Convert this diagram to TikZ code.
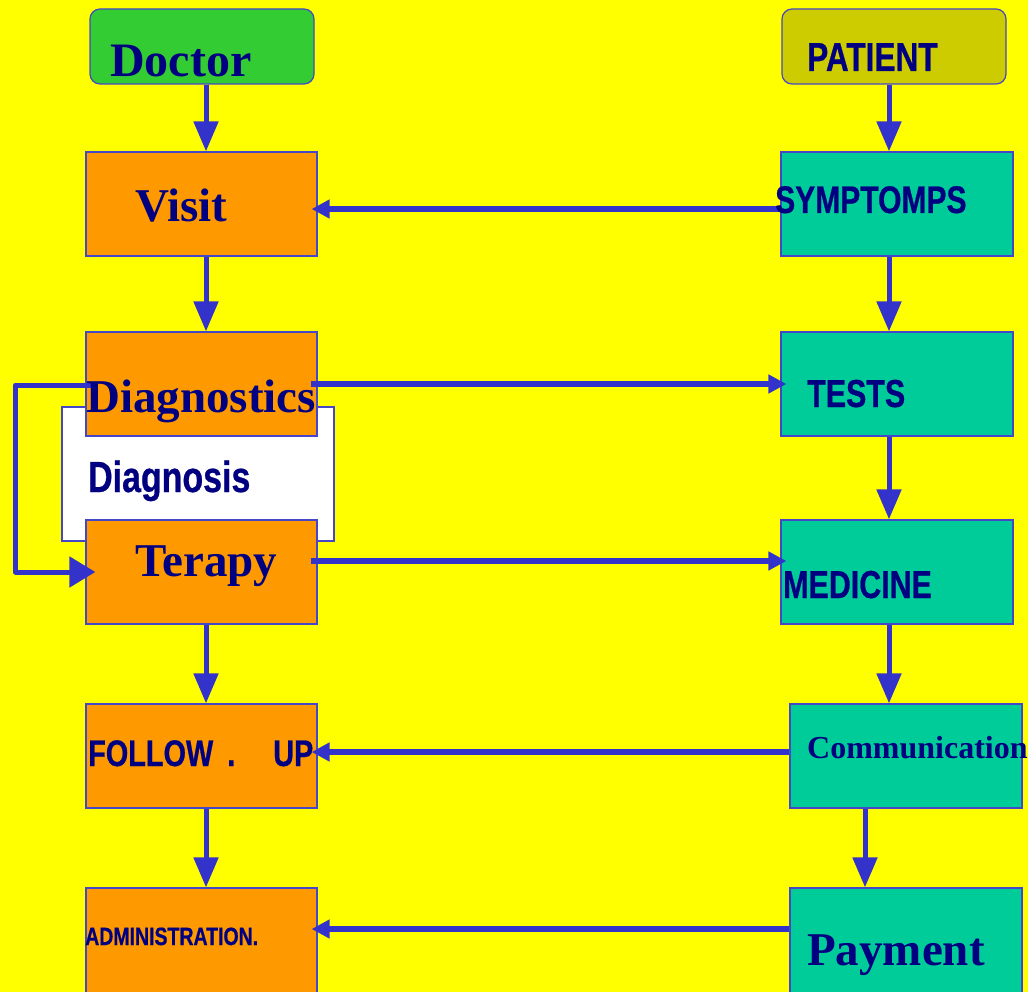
\documentclass[tikz,border=0pt]{standalone}
\usepackage{fontspec}
\setmainfont{Liberation Serif}
\newfontfamily\condfont[FakeStretch=0.78, FakeBold=0.6]{Liberation Sans}
\usepackage{tikz}
\usetikzlibrary{arrows.meta,positioning}
\definecolor{bgyellow}{RGB}{255,255,0}
\definecolor{docorange}{RGB}{255,153,0}
\definecolor{docgreen}{RGB}{51,204,51}
\definecolor{patolive}{RGB}{204,204,0}
\definecolor{patteal}{RGB}{0,204,153}
\definecolor{flowblue}{RGB}{51,51,204}
\definecolor{edgeblue}{RGB}{70,70,200}
\definecolor{textnavy}{RGB}{0,0,128}
\tikzset{
    flow/.style={-{Triangle[length=30pt, width=24pt]}, line width=5pt, flowblue},
    link/.style={-{Triangle[length=18pt, width=18pt]}, line width=5.5pt, flowblue},
    loopback/.style={-{Triangle[length=26pt, width=30pt]}, line width=5pt, flowblue, line join=round},
    stepbox/.style={draw=edgeblue, line width=1.2pt, minimum width=231pt, minimum height=104pt, inner sep=0pt},
    docbox/.style={stepbox, fill=docorange},
    patbox/.style={stepbox, fill=patteal, minimum width=232pt},
    headbox/.style={draw=edgeblue, line width=1.2pt, rounded corners=10pt, minimum width=224pt, minimum height=75pt, inner sep=0pt},
    serif/.style={anchor=base west, inner sep=0pt, text=textnavy, font=\bfseries\fontsize{47}{50}\selectfont},
    cond/.style={anchor=base west, inner sep=0pt, text=textnavy, font=\condfont\bfseries\fontsize{39}{42}\selectfont}
}
\begin{document}
\begin{tikzpicture}[x=1pt, y=-1pt]
\useasboundingbox (0,0) rectangle (1028,992);
\fill[bgyellow] (0,0) rectangle (1028,992);

\node[draw=edgeblue, line width=1.2pt, fill=white, minimum width=272pt, minimum height=134pt] (diagnosis) at (198,474) {};

\node[headbox, fill=docgreen] (doctor) at (202,46.5) {};
\node[docbox] (visit) at (201.5,204) {};
\node[docbox] (diag) at (201.5,384) {};
\node[docbox] (terapy) at (201.5,572) {};
\node[docbox] (follow) at (201.5,756) {};
\node[docbox, minimum height=112pt] (admin) at (201.5,944) {};

\node[headbox, fill=patolive] (patient) at (894,46.5) {};
\node[patbox] (symptoms) at (897,204) {};
\node[patbox] (tests) at (897,384) {};
\node[patbox] (medicine) at (897,572) {};
\node[patbox] (comm) at (906,756) {};
\node[patbox, minimum height=112pt] (payment) at (906,944) {};

\draw[flow] ([xshift=4]doctor.south) -- ([xshift=4.5]visit.north);
\draw[flow] ([xshift=4.5]visit.south) -- ([xshift=4.5]diag.north);
\draw[flow] ([xshift=4.5]terapy.south) -- ([xshift=4.5]follow.north);
\draw[flow] ([xshift=4.5]follow.south) -- ([xshift=4.5]admin.north);

\draw[flow] ([xshift=-5]patient.south) -- ([xshift=-8]symptoms.north);
\draw[flow] ([xshift=-8]symptoms.south) -- ([xshift=-8]tests.north);
\draw[flow] ([xshift=-8]tests.south) -- ([xshift=-8]medicine.north);
\draw[flow] ([xshift=-8]medicine.south) -- ([xshift=-17]comm.north);
\draw[flow] ([xshift=-41]comm.south) -- ([xshift=-41]payment.north);

\draw[link] ([yshift=-5]symptoms.west) -- ([xshift=-6,yshift=-5]visit.east);
\draw[link] ([xshift=-7]diag.east) -- ([xshift=6]tests.west);
\draw[link] ([xshift=-7,yshift=11]terapy.east) -- ([xshift=6,yshift=11]medicine.west);
\draw[link] ([yshift=4]comm.west) -- ([xshift=-6,yshift=4]follow.east);
\draw[link] ([yshift=15]payment.west) -- ([xshift=-6,yshift=15]admin.east);

\draw[loopback] ([xshift=6,yshift=-1]diag.west) -- ++(-76,0) |- ([xshift=10]terapy.west);

\node[serif, font=\bfseries\fontsize{48}{50}\selectfont] (doctor-txt) at (110,77) {Doctor};
\node[serif] (visit-txt) at (135,222) {Visit};
\node[serif] (diag-txt) at (86,412) {Diagnostics};
\node[cond, font=\condfont\bfseries\fontsize{43.5}{46}\selectfont] (diagnosis-txt) at (88,492) {Diagnosis};
\node[serif] (terapy-txt) at (135,576) {Terapy};
\node[cond, font=\condfont\bfseries\fontsize{37}{40}\selectfont] (follow-txt) at (88,766) {FOLLOW\hspace{14pt}.\hspace{38pt}UP};
\node[cond, font=\condfont\bfseries\fontsize{25}{28}\selectfont] (admin-txt) at (85,945) {ADMINISTRATION.};

\node[cond, font=\condfont\bfseries\fontsize{40.5}{43}\selectfont] (patient-txt) at (807,71) {PATIENT};
\node[cond, font=\condfont\bfseries\fontsize{38.5}{40}\selectfont] (symptoms-txt) at (775,213) {SYMPTOMPS};
\node[cond] (tests-txt) at (807,407) {TESTS};
\node[cond] (medicine-txt) at (783,598) {MEDICINE};
\node[serif, font=\bfseries\fontsize{32}{34}\selectfont] (comm-txt) at (807,758) {Communication};
\node[serif] (payment-txt) at (807,965) {Payment};
\end{tikzpicture}
\end{document}
